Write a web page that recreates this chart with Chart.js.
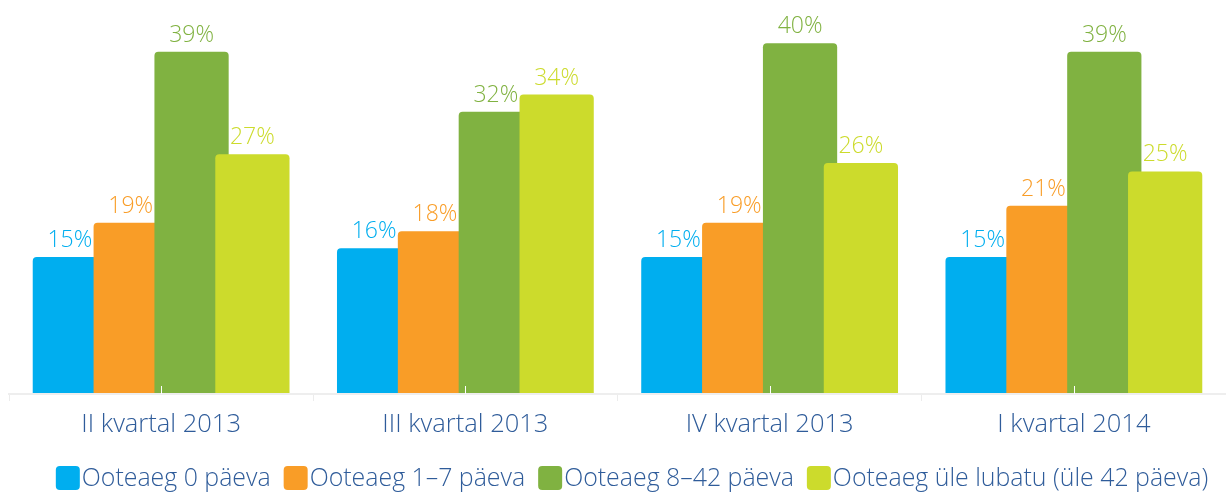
<!DOCTYPE html>
<html>
<head>
<meta charset="utf-8">
<script src="https://cdn.jsdelivr.net/npm/chart.js@4.4.1/dist/chart.umd.min.js"></script>
<style>
  html, body { margin: 0; padding: 0; background: #ffffff; }
  #wrap { width: 1226px; height: 493px; position: relative; }
</style>
</head>
<body>
<div id="wrap"><canvas id="c" width="1226" height="493"></canvas></div>
<script>
const categories = ['II kvartal 2013', 'III kvartal 2013', 'IV kvartal 2013', 'I kvartal 2014'];
const seriesNames = ['Ooteaeg 0 päeva', 'Ooteaeg 1–7 päeva', 'Ooteaeg 8–42 päeva', 'Ooteaeg üle lubatu (üle 42 päeva)'];
const wait0 = [15, 16, 15, 15];
const wait1to7 = [19, 18, 19, 21];
const wait8to42 = [39, 32, 40, 39];
const waitOver42 = [27, 34, 26, 25];

const colors = ['#00AEEF', '#F99D27', '#80B241', '#CCDB2C'];
const textBlue = '#2F5C9A';
const FONT = "'Open Sans', 'Noto Sans', sans-serif";

const Y_MIN = -1.05;
const Y_MAX = 43.9;

const seriesValues = [wait0, wait1to7, wait8to42, waitOver42];
const datasets = seriesValues.map((vals, i) => ({
  label: seriesNames[i],
  data: vals,
  backgroundColor: colors[i],
  base: Y_MIN,
  borderRadius: { topLeft: 4, topRight: 4, bottomLeft: 0, bottomRight: 0 },
  borderSkipped: false,
  categoryPercentage: 0.8,
  barPercentage: 1.22
}));

// draw order: each series drawn over the previous one (left to right)
const drawOrder = [0, 1, 2, 3];

const orderPlugin = {
  id: 'orderPlugin',
  beforeDatasetsDraw(chart) {
    const ctx = chart.ctx;
    const a = chart.chartArea;
    ctx.save();
    ctx.beginPath();
    ctx.rect(a.left, a.top - 20, a.right - a.left, a.bottom - a.top + 20);
    ctx.clip();
    drawOrder.forEach(i => chart.getDatasetMeta(i).controller.draw());
    ctx.restore();
    return false;
  }
};

const extrasPlugin = {
  id: 'extras',
  afterDraw(chart) {
    const ctx = chart.ctx;
    const a = chart.chartArea;
    const xs = chart.scales.x;
    ctx.save();
    // white center ticks
    ctx.strokeStyle = '#ffffff';
    ctx.lineWidth = 1;
    categories.forEach((c, i) => {
      const x = Math.round(xs.getPixelForTick(i)) + 0.5;
      ctx.beginPath();
      ctx.moveTo(x, a.bottom - 8);
      ctx.lineTo(x, a.bottom);
      ctx.stroke();
    });
    // data labels
    ctx.font = '300 23px ' + FONT;
    ctx.textAlign = 'center';
    ctx.textBaseline = 'alphabetic';
    chart.data.datasets.forEach((ds, di) => {
      const meta = chart.getDatasetMeta(di);
      ctx.fillStyle = colors[di];
      meta.data.forEach((bar, j) => {
        ctx.fillText(ds.data[j] + '%', bar.x, bar.y - 10);
      });
    });
    // legend
    const boxSize = 24, boxGap = 2, itemGap = 13;
    ctx.font = '300 24.9px ' + FONT;
    const widths = seriesNames.map(n => ctx.measureText(n).width);
    const total = widths.reduce((s, w) => s + boxSize + boxGap + w, 0) + itemGap * (seriesNames.length - 1);
    let x = 632 - total / 2;
    const cy = 478;
    ctx.textAlign = 'left';
    ctx.textBaseline = 'middle';
    seriesNames.forEach((n, i) => {
      ctx.fillStyle = colors[i];
      ctx.beginPath();
      ctx.roundRect(x, cy - boxSize / 2, boxSize, boxSize, 4);
      ctx.fill();
      x += boxSize + boxGap;
      ctx.fillStyle = textBlue;
      ctx.fillText(n, x, cy + 1);
      x += widths[i] + itemGap;
    });
    ctx.restore();
  }
};

new Chart(document.getElementById('c'), {
  type: 'bar',
  data: { labels: categories, datasets: datasets },
  plugins: [orderPlugin, extrasPlugin],
  options: {
    responsive: false,
    animation: false,
    layout: { padding: { top: 10, left: 9, right: 0, bottom: 40 } },
    plugins: {
      legend: { display: false },
      tooltip: { enabled: false }
    },
    scales: {
      x: {
        afterFit(scale) { scale.height = 59; },
        grid: {
          drawOnChartArea: false,
          drawTicks: true,
          tickLength: 7,
          color: '#ececec',
          offset: true
        },
        border: { display: true, color: '#eeeeee', width: 2, z: 1 },
        ticks: {
          padding: 8,
          color: textBlue,
          font: { family: FONT, size: 25.5, weight: '300' }
        }
      },
      y: {
        display: false,
        min: Y_MIN,
        max: Y_MAX
      }
    }
  }
});
</script>
</body>
</html>
